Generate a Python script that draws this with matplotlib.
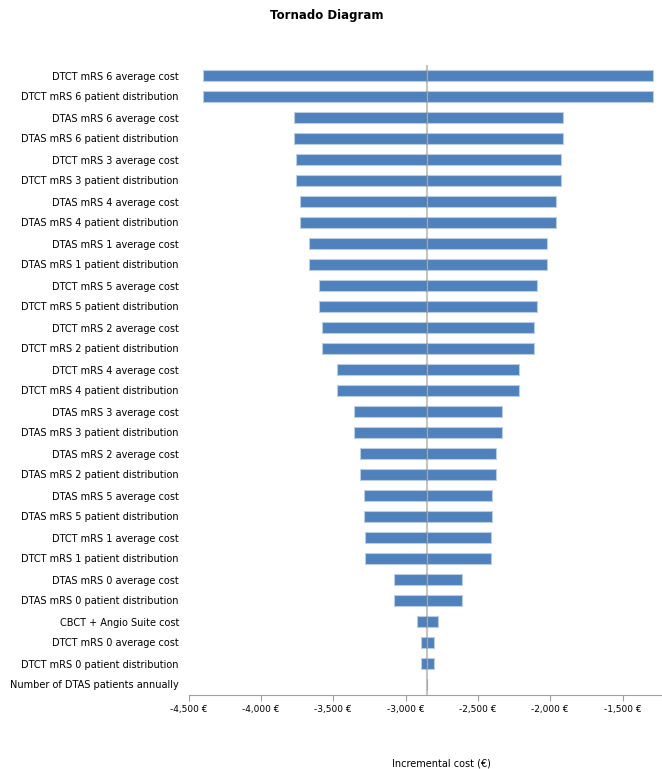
import numpy as np
import matplotlib
matplotlib.use("Agg")
import matplotlib.pyplot as plt
from matplotlib.ticker import FuncFormatter

# parameters, top to bottom
labels = [
    "DTCT mRS 6 average cost", "DTCT mRS 6 patient distribution",
    "DTAS mRS 6 average cost", "DTAS mRS 6 patient distribution",
    "DTCT mRS 3 average cost", "DTCT mRS 3 patient distribution",
    "DTAS mRS 4 average cost", "DTAS mRS 4 patient distribution",
    "DTAS mRS 1 average cost", "DTAS mRS 1 patient distribution",
    "DTCT mRS 5 average cost", "DTCT mRS 5 patient distribution",
    "DTCT mRS 2 average cost", "DTCT mRS 2 patient distribution",
    "DTCT mRS 4 average cost", "DTCT mRS 4 patient distribution",
    "DTAS mRS 3 average cost", "DTAS mRS 3 patient distribution",
    "DTAS mRS 2 average cost", "DTAS mRS 2 patient distribution",
    "DTAS mRS 5 average cost", "DTAS mRS 5 patient distribution",
    "DTCT mRS 1 average cost", "DTCT mRS 1 patient distribution",
    "DTAS mRS 0 average cost", "DTAS mRS 0 patient distribution",
    "CBCT + Angio Suite cost",
    "DTCT mRS 0 average cost", "DTCT mRS 0 patient distribution",
    "Number of DTAS patients annually",
]
low = [-4403, -4403, -3772, -3772, -3756, -3756, -3732, -3732, -3670, -3670,
       -3601, -3601, -3580, -3580, -3474, -3474, -3357, -3357, -3315, -3315,
       -3290, -3290, -3283, -3283, -3080, -3080, -2921, -2894, -2894, -2850]
high = [-1291, -1291, -1911, -1911, -1927, -1927, -1958, -1958, -2022, -2022,
        -2091, -2091, -2112, -2112, -2218, -2218, -2335, -2335, -2377, -2377,
        -2402, -2402, -2409, -2409, -2612, -2612, -2774, -2801, -2801, -2850]
base = -2850

fig = plt.figure(figsize=(6.62, 7.69), dpi=100)
ax = fig.add_axes([188.7 / 662, 1 - 695 / 769, 1 - 188.7 / 662, (695 - 65) / 769])

y = np.arange(len(labels))
low = np.array(low)
high = np.array(high)
ax.barh(y, base - low, left=low, height=0.5, color="#4f81bd",
        edgecolor="#b9cde5", linewidth=0.8)
ax.barh(y, high - base, left=base, height=0.5, color="#4f81bd",
        edgecolor="#b9cde5", linewidth=0.8)
ax.axvline(base, color="#808080", alpha=0.45, linewidth=1.5)

ax.set_ylim(len(labels) - 0.5, -0.5)
ax.set_xlim(-4500, -1227)
ax.set_yticks(y)
ax.set_yticklabels(labels, fontsize=7)
ax.tick_params(axis="y", length=0, pad=7)
ax.set_xticks(np.arange(-4500, -1400, 500))
ax.xaxis.set_major_formatter(FuncFormatter(lambda v, p: f"{v:,.0f} €"))
ax.tick_params(axis="x", labelsize=6.5, length=4, color="#a0a0a0", pad=3)

for s in ["top", "right", "left"]:
    ax.spines[s].set_visible(False)
ax.spines["bottom"].set_color("#a0a0a0")

fig.text(0.494, 1 - 15 / 769, "Tornado Diagram", ha="center", va="center",
         fontsize=8.5, fontweight="bold")
fig.text(441 / 662, 1 - 763 / 769, "Incremental cost (€)", ha="center",
         va="center", fontsize=7)

fig.savefig("out.png", dpi=100)
